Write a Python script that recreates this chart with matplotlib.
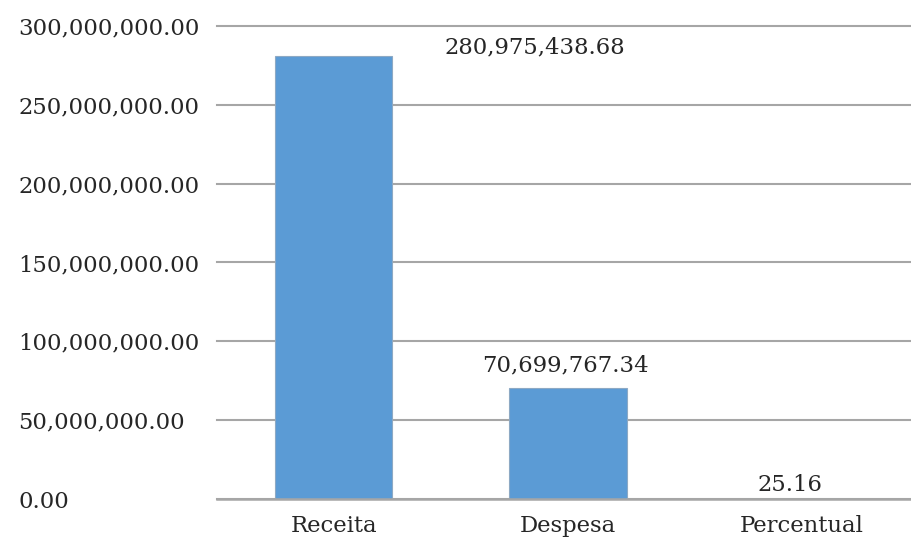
import matplotlib.pyplot as plt
from matplotlib.ticker import FuncFormatter

categories = ["Receita", "Despesa", "Percentual"]
values = [280975438.68, 70699767.34, 25.16]
value_labels = ["280,975,438.68", "70,699,767.34", "25.16"]
yticks = [0, 50e6, 100e6, 150e6, 200e6, 250e6, 300e6]

plt.rcParams["font.family"] = ["DejaVu Serif"]
FS = 16.4
TXT = "#262626"

fig = plt.figure(figsize=(9.11, 5.47), dpi=100)
ax = fig.add_axes([0.238, 0.0872, 0.771, 0.866])

x = list(range(len(categories)))
ax.bar(x, values, width=0.5, color="#5B9BD5", edgecolor="#8DA9C4",
       linewidth=0.8, zorder=3)

ax.set_xlim(-0.5, 2.5)
ax.set_ylim(0, 300e6)
ax.set_yticks(yticks)
ax.yaxis.set_major_formatter(FuncFormatter(lambda v, p: f"{v:,.2f}"))
ax.set_xticks(x)
ax.set_xticklabels(categories)

ax.grid(axis="y", color="#A6A6A6", linewidth=1.5, zorder=0)
for gl in ax.get_ygridlines():
    gl.set_clip_on(False)
for s in ["top", "right", "left"]:
    ax.spines[s].set_visible(False)
ax.spines["bottom"].set_color("#A6A6A6")
ax.spines["bottom"].set_linewidth(1.8)
ax.spines["bottom"].set_zorder(4)

# y labels are left aligned in the original, starting near the figure edge
ax.tick_params(axis="y", length=0, pad=143, labelsize=FS, labelcolor=TXT)
for lab in ax.get_yticklabels():
    lab.set_horizontalalignment("left")
ax.tick_params(axis="x", length=0, pad=11, labelsize=FS, labelcolor=TXT)

# data labels (positions as placed in the original chart)
label_pos = [(0.86, 286e6), (0.99, 85e6), (1.95, 9.1e6)]
for (lx, ly), txt in zip(label_pos, value_labels):
    ax.text(lx, ly, txt, ha="center", va="center", fontsize=FS,
            color=TXT, zorder=5)

fig.savefig("out.png", dpi=100)
